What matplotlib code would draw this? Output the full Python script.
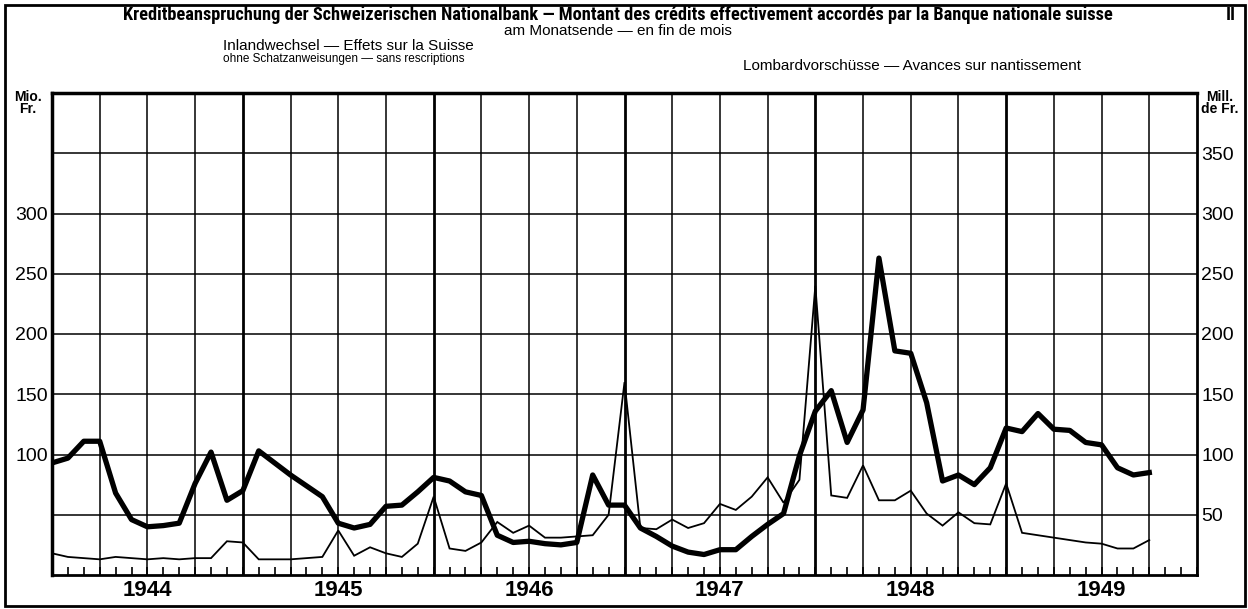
import numpy as np
import matplotlib
matplotlib.use("Agg")
import matplotlib.pyplot as plt
from matplotlib.patches import Rectangle
from matplotlib import font_manager

# Monthly values (end of month), Mio. Fr., Jan 1944 .. Oct 1949
inland = [93, 97, 111, 111, 68, 46, 40, 41, 43, 76, 102, 62,
          70, 103, 93, 83, 74, 65, 43, 39, 42, 57, 58, 69,
          81, 78, 69, 66, 33, 27, 28, 26, 25, 27, 83, 58,
          58, 39, 32, 24, 19, 17, 21, 21, 32, 42, 51, 99,
          136, 153, 110, 137, 263, 186, 184, 143, 78, 83, 75, 89,
          122, 119, 134, 121, 120, 110, 108, 89, 83, 85]
lombard = [18, 15, 14, 13, 15, 14, 13, 14, 13, 14, 14, 28,
           27, 13, 13, 13, 14, 15, 37, 16, 23, 18, 15, 26,
           65, 22, 20, 27, 44, 35, 41, 31, 31, 32, 33, 50,
           160, 39, 38, 46, 39, 43, 59, 54, 65, 81, 60, 79,
           240, 66, 64, 91, 62, 62, 70, 51, 41, 52, 43, 42,
           76, 35, 33, 31, 29, 27, 26, 22, 22, 29]
years = ["1944", "1945", "1946", "1947", "1948", "1949"]
left_ticks = [100, 150, 200, 250, 300]
right_ticks = [50, 100, 150, 200, 250, 300, 350]

plt.rcParams['font.family'] = ['Liberation Sans', 'DejaVu Sans']

# a condensed face for the title if one is installed
names = {f.name for f in font_manager.fontManager.ttflist}
cond = [n for n in ['Roboto Condensed', 'Liberation Sans Narrow', 'DejaVu Sans Condensed',
                    'Open Sans Condensed'] if n in names]
title_family = cond[:1] + ['Liberation Sans', 'DejaVu Sans']

fig = plt.figure(figsize=(12.48, 6.09), dpi=100)
ax = fig.add_axes([52/1248, 1-575/609, (1197-52)/1248, (575-93)/609])

months = np.arange(len(inland))
ax.set_xlim(0, 12*len(years))
ax.set_ylim(0, 400)

# grid: horizontal every 50, vertical every quarter, years heavier
for v in range(50, 400, 50):
    ax.axhline(v, color='black', lw=1.1, zorder=1)
for m in range(3, 12*len(years), 3):
    ax.axvline(m, color='black', lw=2.0 if m % 12 == 0 else 1.1, zorder=1)

ax.plot(months, lombard, color='black', lw=1.3, zorder=3, solid_joinstyle='miter')
ax.plot(months, inland, color='black', lw=3.8, zorder=4, solid_joinstyle='round')

for s in ax.spines.values():
    s.set_linewidth(2.0)
ax.spines['top'].set_linewidth(2.5)
ax.spines['left'].set_linewidth(2.5)

# month ticks on bottom axis
ax.set_xticks(np.arange(0, 12*len(years)+1, 1))
ax.set_xticklabels([])
ax.tick_params(axis='x', direction='in', length=6, width=1.2, bottom=True, top=False)

ax.set_yticks(left_ticks)
ax.set_yticklabels([str(t) for t in left_ticks], fontsize=14)
ax.tick_params(axis='y', length=0, pad=3)

ax2 = ax.twinx()
ax2.set_ylim(0, 400)
ax2.set_yticks(right_ticks)
ax2.set_yticklabels([str(t) for t in right_ticks], fontsize=14)
ax2.tick_params(axis='y', length=0, pad=3)
for s in ax2.spines.values():
    s.set_visible(False)

for k, yr in enumerate(years):
    ax.text(12*k + 6, -12.5, yr, ha='center', va='center', fontsize=16,
            fontweight='bold')

# title: condensed bold, shrunk to fit the width it has in the print
title = fig.text(618/1248, 1-15/609,
                 "Kreditbeanspruchung der Schweizerischen Nationalbank \u2014 "
                 "Montant des crédits effectivement accordés par la Banque nationale suisse",
                 ha='center', va='center', fontsize=15, fontweight='bold',
                 family=title_family)
fig.canvas.draw()
w = title.get_window_extent().width
if w > 990:
    title.set_fontsize(15 * 990 / w)

fig.text(618/1248, 1-31/609, "am Monatsende \u2014 en fin de mois",
         ha='center', va='center', fontsize=11)
fig.text(223/1248, 1-46/609, "Inlandwechsel \u2014 Effets sur la Suisse",
         ha='left', va='center', fontsize=11)
fig.text(223/1248, 1-59/609, "ohne Schatzanweisungen \u2014 sans rescriptions",
         ha='left', va='center', fontsize=8.5)
fig.text(912/1248, 1-66/609, "Lombardvorschüsse \u2014 Avances sur nantissement",
         ha='center', va='center', fontsize=11)
fig.text(1231/1248, 1-16/609, "II", ha='center', va='center', fontsize=13, fontweight='bold')
fig.text(28/1248, 1-103/609, "Mio.\nFr.", ha='center', va='center', fontsize=10,
         fontweight='bold', linespacing=0.9)
fig.text(1220/1248, 1-103/609, "Mill.\nde Fr.", ha='center', va='center', fontsize=10,
         fontweight='bold', linespacing=0.9)

fig.patches.append(Rectangle((5/1248, 3/609), 1240/1248, 601/609, transform=fig.transFigure,
                             fill=False, lw=2.0, edgecolor='black'))

fig.savefig("out.png", dpi=100)
